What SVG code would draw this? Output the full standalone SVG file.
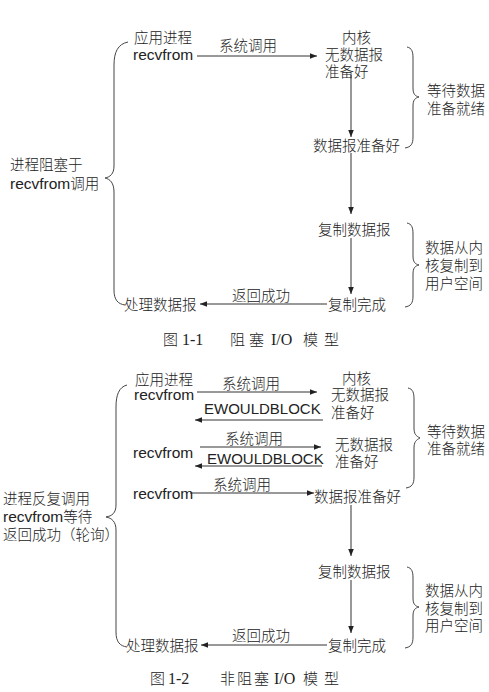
<svg xmlns="http://www.w3.org/2000/svg" width="489" height="692" viewBox="0 0 489 692">
<style>
.cj{font-family:"Noto Sans CJK SC","Noto Sans",sans-serif;font-size:14.5px;fill:#222;font-weight:300}
.en{font-family:"Liberation Sans",Arial,sans-serif;font-size:15.5px;fill:#222}
.ew{font-family:"Liberation Sans",Arial,sans-serif;font-size:15px;fill:#222}
.cap{font-family:"Noto Sans CJK SC",sans-serif;font-size:15px;fill:#222;font-weight:300}
.capn{font-family:"Liberation Serif","Times New Roman",serif;font-size:16px;fill:#222}
.ln{stroke:#333;stroke-width:1;fill:none}
.br{stroke:#444;stroke-width:1;fill:none}
</style>
<defs>
<marker id="ah" viewBox="0 0 10 10" refX="10" refY="5" markerWidth="7" markerHeight="7" markerUnits="userSpaceOnUse" orient="auto">
<path d="M0,1 L10,5 L0,9 Z" fill="#222"/>
</marker>
</defs>
<rect width="489" height="692" fill="#fff"/>

<g id="connectors">
<line class="ln" x1="197" y1="56" x2="317" y2="56" marker-end="url(#ah)"/>
<line class="ln" x1="351" y1="75" x2="351" y2="137" marker-end="url(#ah)"/>
<line class="ln" x1="351" y1="153" x2="351" y2="214" marker-end="url(#ah)"/>
<line class="ln" x1="351" y1="238" x2="351" y2="294" marker-end="url(#ah)"/>
<line class="ln" x1="327" y1="304" x2="200" y2="304" marker-end="url(#ah)"/>
<line class="ln" x1="197" y1="392" x2="317" y2="392" marker-end="url(#ah)"/>
<line class="ln" x1="323" y1="420" x2="195" y2="420" marker-end="url(#ah)"/>
<line class="ln" x1="200" y1="447" x2="321" y2="447" marker-end="url(#ah)"/>
<line class="ln" x1="322" y1="466" x2="195" y2="466" marker-end="url(#ah)"/>
<line class="ln" x1="190" y1="493" x2="314" y2="493" marker-end="url(#ah)"/>
<line class="ln" x1="351" y1="505" x2="351" y2="556" marker-end="url(#ah)"/>
<line class="ln" x1="351" y1="580" x2="351" y2="633" marker-end="url(#ah)"/>
<line class="ln" x1="327" y1="645" x2="201" y2="645" marker-end="url(#ah)"/>
</g>

<g id="braces">
<path class="br" d="M128,42 C118,44 114,52 114,65 L114,166 C114,174 110,177 105,178 C110,179 114,183 114,192 L114,290 C114,300 118,304 125,305"/>
<path class="br" d="M407,47 C412,48 413,52 413,58 L413,88 C413,94 415,96 419,97 C415,98 413,100 413,106 L413,137 C413,144 411,147 405,148"/>
<path class="br" d="M407,223 C412,224 413,228 413,234 L413,256 C413,262 415,264 419,265 C415,266 413,268 413,274 L413,296 C413,303 411,306 405,307"/>
<path class="br" d="M127,385 C119,387 116,395 116,407 L116,505 C116,513 112,516 106,517 C112,518 116,522 116,530 L116,632 C116,642 120,646 127,647"/>
<path class="br" d="M408,388 C413,389 414,393 414,399 L414,428 C414,434 416,436 420,438 C416,440 414,442 414,448 L414,477 C414,484 412,487 406,488"/>
<path class="br" d="M407,567 C412,568 413,572 413,578 L413,598 C413,604 415,606 419,607 C415,608 413,610 413,616 L413,637 C413,644 411,647 405,648"/>
</g>

<g id="fig1">
<g id="n-app1"><text class="cj" x="134" y="43">应用进程</text><text class="en" x="133" y="60">recvfrom</text></g>
<text class="cj" x="219" y="51">系统调用</text>
<g id="n-kernel1"><text class="cj" x="342" y="43">内核</text><text class="cj" x="325" y="60">无数据报</text><text class="cj" x="325" y="77">准备好</text></g>
<g id="n-ready1"><text class="cj" x="313" y="151">数据报准备好</text></g>
<g id="n-wait1"><text class="cj" x="427" y="96">等待数据</text><text class="cj" x="427" y="114">准备就绪</text></g>
<g id="n-copy1"><text class="cj" x="318" y="235">复制数据报</text></g>
<g id="n-copytext1"><text class="cj" x="425" y="253">数据从内</text><text class="cj" x="425" y="271">核复制到</text><text class="cj" x="425" y="289">用户空间</text></g>
<g id="n-done1"><text class="cj" x="328" y="310">复制完成</text></g>
<text class="cj" x="232" y="301">返回成功</text>
<g id="n-proc1"><text class="cj" x="124" y="310">处理数据报</text></g>
<g id="n-block1"><text class="cj" x="10" y="170">进程阻塞于</text><text x="10" y="189"><tspan class="en">recvfrom</tspan><tspan class="cj" font-size="14">调用</tspan></text></g>
<g id="cap1"><text class="cap" x="163" y="345">图</text><text class="capn" x="182" y="345">1-1</text><text class="cap" x="230" y="345" letter-spacing="4">阻塞</text><text class="capn" x="271" y="345">I/O</text><text class="cap" x="303" y="345" letter-spacing="6">模型</text></g>
</g>

<g id="fig2">
<g id="n-app2"><text class="cj" x="135" y="385">应用进程</text><text class="en" x="134" y="400">recvfrom</text></g>
<text class="cj" x="222" y="389">系统调用</text>
<text class="ew" x="204" y="414">EWOULDBLOCK</text>
<g id="n-kernel2"><text class="cj" x="342" y="384">内核</text><text class="cj" x="331" y="400">无数据报</text><text class="cj" x="331" y="418">准备好</text></g>
<g id="n-app2b"><text class="en" x="133" y="458">recvfrom</text></g>
<text class="cj" x="225" y="444">系统调用</text>
<text class="ew" x="207" y="464">EWOULDBLOCK</text>
<g id="n-kernel2b"><text class="cj" x="335" y="450">无数据报</text><text class="cj" x="335" y="467">准备好</text></g>
<g id="n-app2c"><text class="en" x="133" y="499">recvfrom</text></g>
<text class="cj" x="213" y="490">系统调用</text>
<g id="n-ready2"><text class="cj" x="314" y="502">数据报准备好</text></g>
<g id="n-wait2"><text class="cj" x="427" y="437">等待数据</text><text class="cj" x="427" y="454">准备就绪</text></g>
<g id="n-copy2"><text class="cj" x="318" y="577">复制数据报</text></g>
<g id="n-copytext2"><text class="cj" x="425" y="596">数据从内</text><text class="cj" x="425" y="614">核复制到</text><text class="cj" x="425" y="631">用户空间</text></g>
<g id="n-done2"><text class="cj" x="328" y="651">复制完成</text></g>
<text class="cj" x="232" y="641">返回成功</text>
<g id="n-proc2"><text class="cj" x="126" y="651">处理数据报</text></g>
<g id="n-poll2"><text class="cj" x="3" y="504">进程反复调用</text><text x="3" y="522"><tspan class="en">recvfrom</tspan><tspan class="cj" font-size="14">等待</tspan></text><text class="cj" x="3" y="540" font-size="14">返回成功（轮询）</text></g>
<g id="cap2"><text class="cap" x="150" y="684">图</text><text class="capn" x="168" y="684">1-2</text><text class="cap" x="220" y="684" letter-spacing="2">非阻塞</text><text class="capn" x="274" y="684">I/O</text><text class="cap" x="303" y="684" letter-spacing="6">模型</text></g>
</g>
</svg>
